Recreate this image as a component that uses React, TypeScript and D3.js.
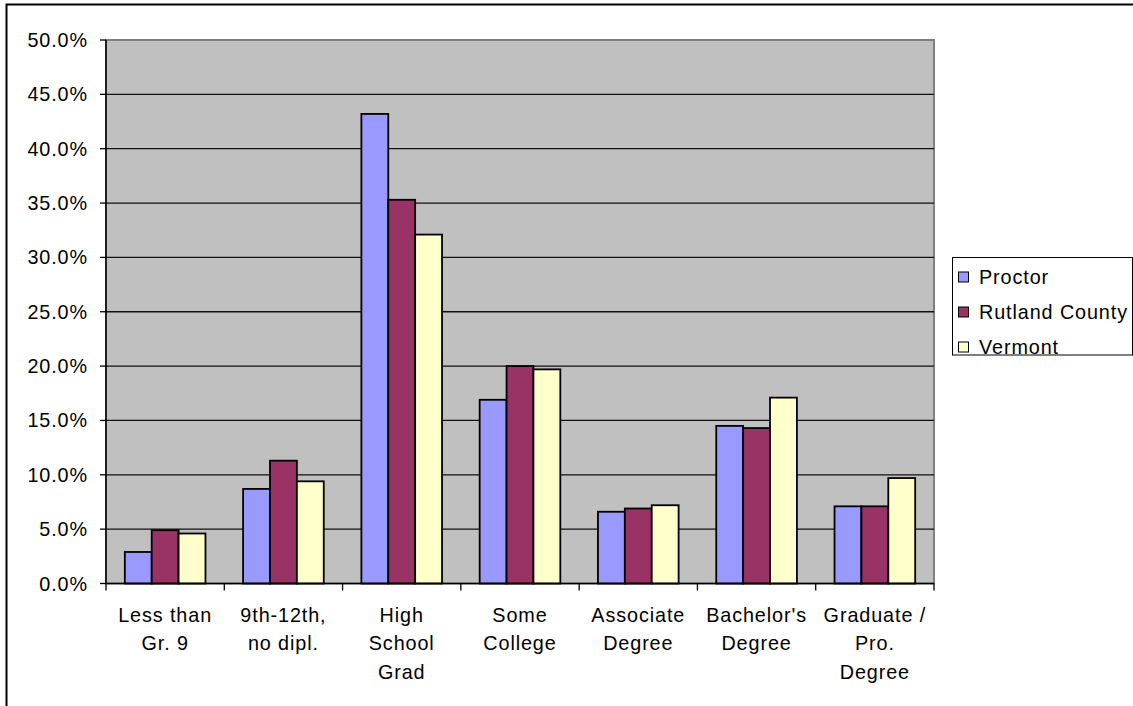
import React from "react";
import * as d3 from "d3";

const categories: string[][] = [
  ["Less than", "Gr. 9"],
  ["9th-12th,", "no dipl."],
  ["High", "School", "Grad"],
  ["Some", "College"],
  ["Associate", "Degree"],
  ["Bachelor's", "Degree"],
  ["Graduate /", "Pro.", "Degree"],
];
const seriesNames = ["Proctor", "Rutland County", "Vermont"];
const proctor = [2.9, 8.7, 43.2, 16.9, 6.6, 14.5, 7.1];
const rutland = [4.9, 11.3, 35.3, 20.0, 6.9, 14.3, 7.1];
const vermont = [4.6, 9.4, 32.1, 19.7, 7.2, 17.1, 9.7];
const seriesValues = [proctor, rutland, vermont];
const colors = ["#9999FF", "#993366", "#FFFFCC"];
const yTicks = [0, 5, 10, 15, 20, 25, 30, 35, 40, 45, 50];

const W = 1133;
const H = 706;
const plot = { left: 106, right: 934, top: 40, bottom: 583.5 };
const FONT = "'Liberation Sans', Arial, sans-serif";
const FS = 19.8;
const LS = 0.9;

export default function App() {
  React.useEffect(() => {
    document.body.style.margin = "0";
    document.body.style.overflow = "hidden";
  }, []);
  const keys = categories.map((c) => c.join(" "));
  const x = d3.scaleBand<string>().domain(keys).range([plot.left, plot.right]).paddingInner(0).paddingOuter(0);
  const x1 = d3
    .scaleBand<string>()
    .domain(seriesNames)
    .range([0, x.bandwidth()])
    .paddingInner(0)
    .paddingOuter(0.7);
  const y = d3.scaleLinear().domain([0, 50]).range([plot.bottom, plot.top]);
  const fmt = (v: number) => d3.format(".1f")(v) + "%";

  return (
    <svg width={W} height={H} style={{ position: "absolute", left: 0, top: 0, display: "block" }} fontFamily={FONT}>
      <rect x={0} y={0} width={W} height={H} fill="#fff" />
      {/* outer chart border */}
      <rect x={6.5} y={4.5} width={W + 50} height={H + 50} fill="none" stroke="#000" strokeWidth={2} />
      {/* plot area */}
      <rect
        x={plot.left}
        y={plot.top}
        width={plot.right - plot.left}
        height={plot.bottom - plot.top}
        fill="#C0C0C0"
        stroke="#808080"
        strokeWidth={2}
      />
      {/* gridlines */}
      {yTicks
        .filter((t) => t > 0 && t < 50)
        .map((t) => (
          <line key={"g" + t} x1={plot.left} x2={plot.right} y1={y(t)} y2={y(t)} stroke="#111" strokeWidth={1.3} />
        ))}
      {/* bars */}
      {seriesValues.map((vals, si) =>
        vals.map((v, ci) => (
          <rect
            key={si + "-" + ci}
            x={(x(keys[ci]) as number) + (x1(seriesNames[si]) as number)}
            y={y(v)}
            width={x1.bandwidth()}
            height={y(0) - y(v)}
            fill={colors[si]}
            stroke="#000"
            strokeWidth={1.8}
          />
        ))
      )}
      {/* axes */}
      <line x1={plot.left} x2={plot.left} y1={plot.top} y2={plot.bottom} stroke="#000" strokeWidth={1.5} />
      <line x1={plot.left} x2={plot.right} y1={plot.bottom} y2={plot.bottom} stroke="#000" strokeWidth={1.5} />
      {yTicks.map((t) => (
        <g key={"yt" + t}>
          <line x1={plot.left - 6} x2={plot.left} y1={y(t)} y2={y(t)} stroke="#000" strokeWidth={1.3} />
          <text
            x={88}
            y={y(t)}
            textAnchor="end"
            dominantBaseline="central"
            fontSize={FS}
            letterSpacing={LS}
            fill="#000"
          >
            {fmt(t)}
          </text>
        </g>
      ))}
      {keys.map((k, i) => (
        <line
          key={"xt" + i}
          x1={x(k) as number}
          x2={x(k) as number}
          y1={plot.bottom}
          y2={plot.bottom + 7}
          stroke="#000"
          strokeWidth={1.3}
        />
      ))}
      <line x1={plot.right} x2={plot.right} y1={plot.bottom} y2={plot.bottom + 7} stroke="#000" strokeWidth={1.3} />
      {categories.map((lines, i) => (
        <g key={"xl" + i}>
          {lines.map((ln, j) => (
            <text
              key={j}
              x={(x(keys[i]) as number) + x.bandwidth() / 2}
              y={615 + j * 28.3}
              textAnchor="middle"
              dominantBaseline="central"
              fontSize={FS}
              letterSpacing={LS}
              fill="#000"
            >
              {ln}
            </text>
          ))}
        </g>
      ))}
      {/* legend */}
      <rect x={952.5} y={257.5} width={180} height={97.5} fill="#fff" stroke="#000" strokeWidth={1} />
      {seriesNames.map((s, i) => (
        <g key={"lg" + i}>
          <rect x={958.5} y={272 + i * 35} width={10} height={10} fill={colors[i]} stroke="#000" strokeWidth={1} />
          <text x={979} y={277 + i * 35} dominantBaseline="central" fontSize={FS} letterSpacing={LS} fill="#000">
            {s}
          </text>
        </g>
      ))}
    </svg>
  );
}
